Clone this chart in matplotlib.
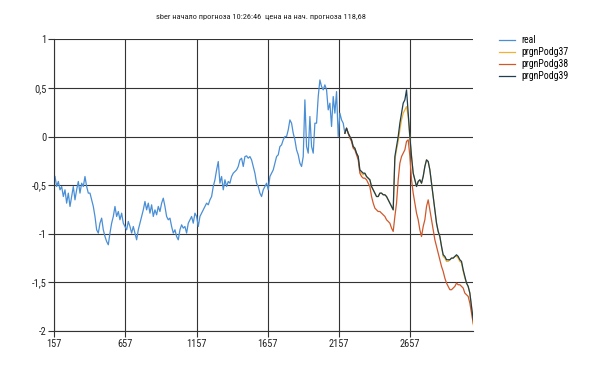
import numpy as np
import matplotlib
matplotlib.use("Agg")
import matplotlib.pyplot as plt
from matplotlib.ticker import FuncFormatter
from matplotlib import font_manager

title = "sber начало прогноза 10:26:46  цена на нач. прогноза 118,68"
x_ticks = [157, 657, 1157, 1657, 2157, 2657]
y_ticks = [-2, -1.5, -1, -0.5, 0, 0.5, 1]
series_names = ["real", "prgnPodg37", "prgnPodg38", "prgnPodg39"]

x_real_start, x_real_end = 162, 2200
x_fc_start, x_fc_end = 2200, 3102

real = [
    -0.411, -0.514, -0.462, -0.548, -0.514, -0.617, -0.548, -0.685, -0.582, -0.719,
    -0.617, -0.514, -0.651, -0.548, -0.462, -0.582, -0.480, -0.514, -0.411, -0.514,
    -0.582, -0.582, -0.651, -0.719, -0.822, -0.959, -0.993, -0.891, -0.839, -0.959,
    -1.028, -1.079, -1.113, -0.993, -0.891, -0.822, -0.719, -0.822, -0.771, -0.856,
    -0.788, -0.891, -0.925, -0.959, -0.873, -0.925, -0.993, -0.925, -0.993, -1.062,
    -0.959, -0.891, -0.822, -0.754, -0.668, -0.754, -0.685, -0.788, -0.702, -0.822,
    -0.754, -0.805, -0.719, -0.771, -0.685, -0.634, -0.719, -0.822, -0.856, -0.839,
    -0.925, -0.993, -0.959, -1.028, -1.062, -0.959, -0.908, -0.942, -0.925, -0.993,
    -0.891, -0.856, -0.822, -0.891, -0.788, -0.822, -0.925, -0.822, -0.788, -0.754,
    -0.719, -0.685, -0.702, -0.651, -0.617, -0.514, -0.445, -0.343, -0.257, -0.480,
    -0.411, -0.548, -0.445, -0.514, -0.462, -0.480,
    -0.411, -0.377, -0.360, -0.343, -0.308, -0.240, -0.223, -0.308, -0.206, -0.199,
    -0.223, -0.206, -0.240, -0.308, -0.377, -0.480, -0.514, -0.582, -0.617, -0.548,
    -0.514, -0.480, -0.548, -0.411, -0.377, -0.343, -0.274, -0.206, -0.188, -0.103,
    -0.086, -0.034, 0.000, 0.000, 0.068, 0.171, 0.137, 0.034, -0.034, -0.137,
    -0.188, -0.274, -0.308, -0.206, 0.377, -0.103, -0.171, 0.206, -0.103, -0.171,
    0.137, 0.137, 0.411, 0.582, 0.514, 0.480, 0.531, 0.480, 0.274, 0.343,
    0.103, 0.411, 0.240, 0.462, 0.000, 0.240, 0.171, 0.137, 0.034,
]

prgn39 = [
    0.034, 0.086, 0.034, 0.000, -0.034, -0.103, -0.120, -0.171, -0.206, -0.343,
    -0.360, -0.377, -0.377, -0.411, -0.428, -0.445, -0.514, -0.548, -0.582, -0.617,
    -0.617, -0.582, -0.582, -0.599, -0.599, -0.617, -0.651, -0.685, -0.719, -0.754,
    -0.206, -0.103, 0.000, 0.137, 0.240, 0.343, 0.377, 0.480, 0.240, 0.000,
    -0.206, -0.377, -0.445, -0.514, -0.462, -0.445, -0.480, -0.411, -0.308, -0.240,
    -0.257, -0.343, -0.480, -0.617, -0.754, -0.891, -0.976, -1.028, -1.130, -1.216,
    -1.233, -1.267, -1.267, -1.267, -1.250, -1.250, -1.233, -1.216, -1.233, -1.267,
    -1.284, -1.370, -1.439, -1.507, -1.541, -1.610, -1.747, -1.884,
]

prgn37 = [
    0.034, 0.086, 0.034, 0.000, -0.034, -0.103, -0.120, -0.171, -0.206, -0.360,
    -0.377, -0.394, -0.377, -0.411, -0.428, -0.445, -0.514, -0.548, -0.582, -0.617,
    -0.617, -0.582, -0.582, -0.599, -0.599, -0.617, -0.651, -0.685, -0.719, -0.754,
    -0.240, -0.137, -0.051, 0.068, 0.171, 0.240, 0.274, 0.308, 0.206, -0.017,
    -0.206, -0.377, -0.445, -0.514, -0.462, -0.445, -0.480, -0.411, -0.308, -0.240,
    -0.257, -0.343, -0.480, -0.617, -0.754, -0.891, -0.976, -1.028, -1.130, -1.233,
    -1.250, -1.284, -1.284, -1.267, -1.250, -1.250, -1.233, -1.233, -1.250, -1.284,
    -1.300, -1.387, -1.456, -1.507, -1.541, -1.610, -1.760, -1.935,
]

prgn38 = [
    0.034, 0.086, 0.034, -0.017, -0.051, -0.120, -0.137, -0.188, -0.240, -0.377,
    -0.411, -0.428, -0.428, -0.445, -0.480, -0.514, -0.617, -0.685, -0.736, -0.754,
    -0.771, -0.771, -0.788, -0.805, -0.822, -0.856, -0.873, -0.891, -0.942, -0.976,
    -0.822, -0.685, -0.445, -0.274, -0.206, -0.171, -0.137, -0.050, -0.034, -0.200,
    -0.445, -0.582, -0.685, -0.788, -0.856, -0.959, -1.028, -0.925, -0.856, -0.719,
    -0.651, -0.754, -0.856, -0.959, -1.062, -1.130, -1.199, -1.267, -1.336, -1.387,
    -1.456, -1.507, -1.541, -1.575, -1.575, -1.558, -1.541, -1.507, -1.524, -1.524,
    -1.541, -1.558, -1.610, -1.627, -1.644, -1.713, -1.815, -1.918,
]

colors = ["#4a8fd6", "#f2b134", "#d0592c", "#1d3f4f"]

# pick a narrow font if one is installed, otherwise shrink Liberation Sans
names = {f.name for f in font_manager.fontManager.ttflist}
narrow = None
for cand in ["Liberation Sans Narrow", "Arial Narrow", "Roboto Condensed", "Open Sans Condensed"]:
    if cand in names:
        narrow = cand
        break
if narrow:
    plt.rcParams['font.family'] = [narrow, 'Liberation Sans', 'DejaVu Sans']
    fs_title, fs_tick, fs_leg = 6.0, 7.5, 7.0
else:
    plt.rcParams['font.family'] = ['Liberation Sans', 'DejaVu Sans']
    fs_title, fs_tick, fs_leg = 5.0, 6.3, 6.0

x_real = np.linspace(x_real_start, x_real_end, len(real))
x_fc = np.linspace(x_fc_start, x_fc_end, len(prgn39))

fig = plt.figure(figsize=(5.90, 3.67), dpi=100)
ax = fig.add_axes([0.092, 0.098, 0.710, 0.795])

ax.plot(x_real, real, color=colors[0], lw=0.9, label=series_names[0])
ax.plot(x_fc, prgn37, color=colors[1], lw=0.9, label=series_names[1])
ax.plot(x_fc, prgn38, color=colors[2], lw=0.9, label=series_names[2])
ax.plot(x_fc, prgn39, color=colors[3], lw=0.9, label=series_names[3])

ax.set_xlim(157, 3102)
ax.set_ylim(-2, 1)
ax.set_xticks(x_ticks)
ax.set_yticks(y_ticks)
ax.yaxis.set_major_formatter(FuncFormatter(lambda v, p: ('%g' % v).replace('.', ',')))
ax.grid(True, color='#333333', lw=0.8)
ax.set_axisbelow(True)
for s in ['top', 'right']:
    ax.spines[s].set_visible(False)
for s in ['left', 'bottom']:
    ax.spines[s].set_color('#333333')
    ax.spines[s].set_linewidth(0.8)
ax.tick_params(axis='both', labelsize=fs_tick, length=4, width=0.8, color='#333333',
               pad=1.5, labelcolor='#222222')

fig.text(0.443, 0.955, title, ha='center', va='center', fontsize=fs_title, color='#222222')

fig.legend(loc='upper left', bbox_to_anchor=(0.840, 0.915), frameon=False,
           fontsize=fs_leg, handlelength=1.6, handletextpad=0.6, labelspacing=0.2,
           borderaxespad=0)

fig.savefig("out.png", dpi=100)
